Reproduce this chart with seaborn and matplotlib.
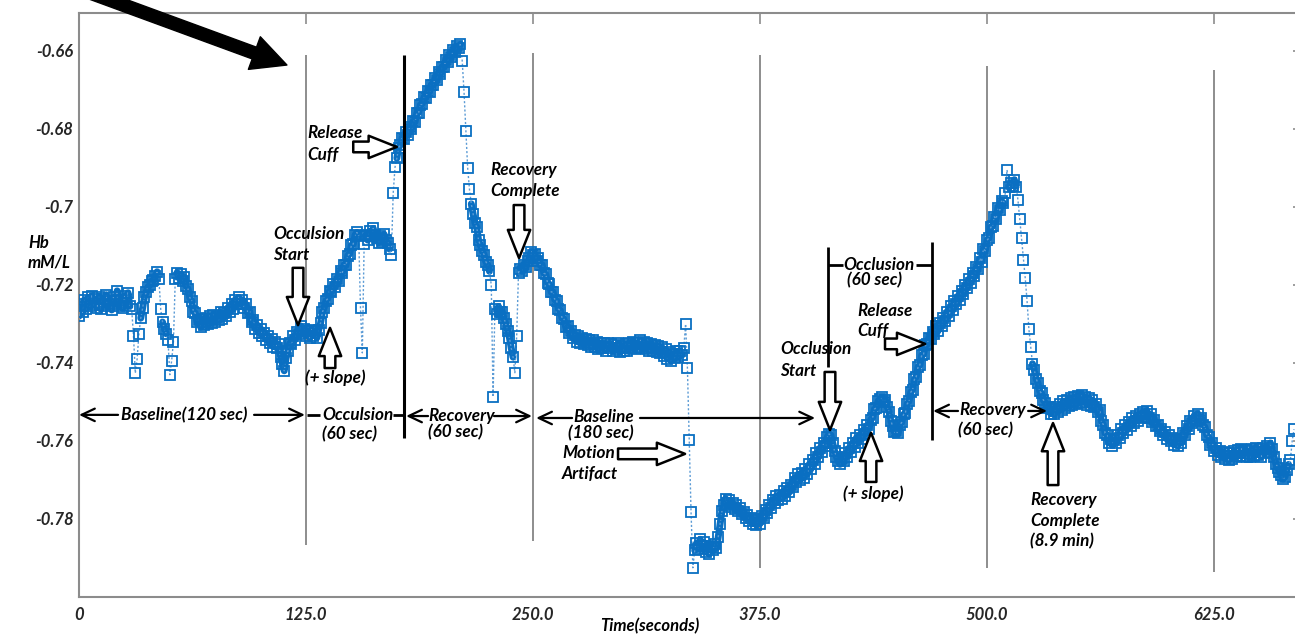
import numpy as np
import pandas as pd
import seaborn as sns
import matplotlib.pyplot as plt

# Hb signal, one sample per second (0 .. 669 s)
hb = [
    -0.7280, -0.7248, -0.7270, -0.7238, -0.7262, -0.7232, -0.7255, -0.7228, -0.7250, -0.7236,
    -0.7258, -0.7230, -0.7262, -0.7236, -0.7250, -0.7225, -0.7255, -0.7240, -0.7264, -0.7232,
    -0.7248, -0.7215, -0.7255, -0.7238, -0.7260, -0.7228, -0.7245, -0.7220, -0.7255, -0.7262,
    -0.7330, -0.7426, -0.7390, -0.7325, -0.7285, -0.7260, -0.7232, -0.7218, -0.7205, -0.7200,
    -0.7190, -0.7188, -0.7176, -0.7166, -0.7185, -0.7262, -0.7295, -0.7312, -0.7325, -0.7340,
    -0.7430, -0.7395, -0.7345, -0.7185, -0.7168, -0.7182, -0.7172, -0.7190, -0.7180, -0.7202,
    -0.7210, -0.7232, -0.7240, -0.7268, -0.7272, -0.7295, -0.7290, -0.7308, -0.7288, -0.7302,
    -0.7285, -0.7300, -0.7280, -0.7298, -0.7276, -0.7295, -0.7282, -0.7290, -0.7270, -0.7288,
    -0.7272, -0.7280, -0.7258, -0.7270, -0.7248, -0.7262, -0.7238, -0.7250, -0.7232, -0.7248,
    -0.7238, -0.7258, -0.7250, -0.7272, -0.7268, -0.7295, -0.7290, -0.7312, -0.7302, -0.7322,
    -0.7312, -0.7330, -0.7322, -0.7340, -0.7330, -0.7350, -0.7338, -0.7358, -0.7345, -0.7362,
    -0.7352, -0.7385, -0.7402, -0.7420, -0.7388, -0.7370, -0.7350, -0.7352, -0.7332, -0.7340,
    -0.7320, -0.7325, -0.7305, -0.7318, -0.7312, -0.7330, -0.7318, -0.7335, -0.7315, -0.7330,
    -0.7318, -0.7335, -0.7315, -0.7298, -0.7270, -0.7258, -0.7240, -0.7235, -0.7215, -0.7218,
    -0.7198, -0.7205, -0.7185, -0.7190, -0.7165, -0.7168, -0.7148, -0.7150, -0.7125, -0.7120,
    -0.7098, -0.7095, -0.7072, -0.7065, -0.7075, -0.7260, -0.7374, -0.7095, -0.7072, -0.7085,
    -0.7062, -0.7075, -0.7055, -0.7072, -0.7080, -0.7092, -0.7075, -0.7090, -0.7070, -0.7085,
    -0.7092, -0.7108, -0.7122, -0.6965, -0.6898, -0.6875, -0.6848, -0.6840, -0.6822, -0.6825,
    -0.6808, -0.6815, -0.6795, -0.6800, -0.6780, -0.6782, -0.6760, -0.6758, -0.6738, -0.6735,
    -0.6718, -0.6720, -0.6702, -0.6705, -0.6686, -0.6688, -0.6670, -0.6675, -0.6655, -0.6658,
    -0.6640, -0.6642, -0.6622, -0.6628, -0.6610, -0.6615, -0.6598, -0.6602, -0.6588, -0.6592,
    -0.6583, -0.6625, -0.6705, -0.6805, -0.6900, -0.6955, -0.6992, -0.7018, -0.7040, -0.7052,
    -0.7085, -0.7098, -0.7112, -0.7122, -0.7140, -0.7148, -0.7165, -0.7200, -0.7487, -0.7262,
    -0.7275, -0.7255, -0.7270, -0.7268, -0.7285, -0.7300, -0.7318, -0.7335, -0.7362, -0.7385,
    -0.7425, -0.7330, -0.7168, -0.7158, -0.7165, -0.7150, -0.7155, -0.7138, -0.7132, -0.7115,
    -0.7122, -0.7120, -0.7138, -0.7132, -0.7150, -0.7148, -0.7170, -0.7172, -0.7195, -0.7198,
    -0.7218, -0.7218, -0.7238, -0.7240, -0.7262, -0.7265, -0.7285, -0.7288, -0.7308, -0.7305,
    -0.7322, -0.7318, -0.7335, -0.7328, -0.7345, -0.7332, -0.7350, -0.7335, -0.7352, -0.7338,
    -0.7355, -0.7340, -0.7358, -0.7342, -0.7360, -0.7345, -0.7365, -0.7348, -0.7362, -0.7350,
    -0.7368, -0.7350, -0.7362, -0.7352, -0.7370, -0.7355, -0.7365, -0.7350, -0.7372, -0.7356,
    -0.7368, -0.7352, -0.7370, -0.7348, -0.7362, -0.7345, -0.7365, -0.7348, -0.7360, -0.7342,
    -0.7362, -0.7345, -0.7365, -0.7350, -0.7368, -0.7352, -0.7370, -0.7355, -0.7372, -0.7356,
    -0.7375, -0.7360, -0.7382, -0.7365, -0.7390, -0.7372, -0.7395, -0.7378, -0.7388, -0.7370,
    -0.7385, -0.7368, -0.7380, -0.7362, -0.7300, -0.7413, -0.7597, -0.7782, -0.7925, -0.7880,
    -0.7862, -0.7878, -0.7852, -0.7870, -0.7860, -0.7885, -0.7868, -0.7890, -0.7872, -0.7880,
    -0.7865, -0.7875, -0.7845, -0.7812, -0.7780, -0.7765, -0.7748, -0.7760, -0.7752, -0.7768,
    -0.7760, -0.7775, -0.7765, -0.7780, -0.7772, -0.7788, -0.7782, -0.7798, -0.7790, -0.7805,
    -0.7798, -0.7812, -0.7802, -0.7815, -0.7800, -0.7812, -0.7792, -0.7798, -0.7778, -0.7785,
    -0.7765, -0.7772, -0.7752, -0.7760, -0.7740, -0.7752, -0.7738, -0.7748, -0.7728, -0.7740,
    -0.7720, -0.7732, -0.7712, -0.7718, -0.7695, -0.7705, -0.7685, -0.7700, -0.7682, -0.7695,
    -0.7672, -0.7685, -0.7660, -0.7672, -0.7648, -0.7658, -0.7632, -0.7642, -0.7618, -0.7628,
    -0.7605, -0.7612, -0.7590, -0.7582, -0.7585, -0.7605, -0.7625, -0.7640, -0.7652, -0.7660,
    -0.7645, -0.7652, -0.7632, -0.7640, -0.7618, -0.7628, -0.7605, -0.7615, -0.7592, -0.7605,
    -0.7585, -0.7595, -0.7572, -0.7582, -0.7560, -0.7568, -0.7545, -0.7540, -0.7518, -0.7515,
    -0.7498, -0.7492, -0.7488, -0.7500, -0.7495, -0.7512, -0.7525, -0.7548, -0.7562, -0.7578,
    -0.7575, -0.7580, -0.7560, -0.7552, -0.7532, -0.7528, -0.7505, -0.7498, -0.7475, -0.7468,
    -0.7442, -0.7435, -0.7410, -0.7405, -0.7380, -0.7378, -0.7355, -0.7352, -0.7335, -0.7338,
    -0.7320, -0.7325, -0.7305, -0.7318, -0.7298, -0.7305, -0.7285, -0.7292, -0.7268, -0.7280,
    -0.7255, -0.7265, -0.7242, -0.7250, -0.7228, -0.7238, -0.7215, -0.7222, -0.7200, -0.7208,
    -0.7185, -0.7195, -0.7170, -0.7178, -0.7155, -0.7160, -0.7132, -0.7140, -0.7108, -0.7112,
    -0.7085, -0.7080, -0.7052, -0.7050, -0.7025, -0.7030, -0.7002, -0.7008, -0.6985, -0.6990,
    -0.6965, -0.6905, -0.6950, -0.6938, -0.6945, -0.6930, -0.6948, -0.6982, -0.7032, -0.7080,
    -0.7135, -0.7182, -0.7240, -0.7312, -0.7358, -0.7402, -0.7418, -0.7440, -0.7452, -0.7472,
    -0.7478, -0.7495, -0.7502, -0.7515, -0.7512, -0.7530, -0.7518, -0.7532, -0.7512, -0.7525,
    -0.7505, -0.7520, -0.7498, -0.7515, -0.7495, -0.7510, -0.7490, -0.7508, -0.7488, -0.7505,
    -0.7485, -0.7502, -0.7482, -0.7500, -0.7488, -0.7508, -0.7490, -0.7510, -0.7495, -0.7512,
    -0.7505, -0.7525, -0.7520, -0.7550, -0.7558, -0.7580, -0.7585, -0.7605, -0.7595, -0.7612,
    -0.7598, -0.7605, -0.7585, -0.7592, -0.7570, -0.7580, -0.7560, -0.7572, -0.7552, -0.7562,
    -0.7542, -0.7555, -0.7535, -0.7548, -0.7530, -0.7542, -0.7525, -0.7538, -0.7522, -0.7540,
    -0.7532, -0.7552, -0.7545, -0.7562, -0.7558, -0.7575, -0.7568, -0.7585, -0.7578, -0.7595,
    -0.7585, -0.7600, -0.7592, -0.7610, -0.7598, -0.7612, -0.7595, -0.7605, -0.7580, -0.7585,
    -0.7562, -0.7570, -0.7548, -0.7555, -0.7535, -0.7548, -0.7530, -0.7545, -0.7540, -0.7558,
    -0.7565, -0.7585, -0.7590, -0.7610, -0.7605, -0.7625, -0.7618, -0.7635, -0.7625, -0.7642,
    -0.7628, -0.7645, -0.7630, -0.7648, -0.7632, -0.7645, -0.7625, -0.7640, -0.7622, -0.7638,
    -0.7620, -0.7638, -0.7622, -0.7640, -0.7625, -0.7642, -0.7620, -0.7638, -0.7618, -0.7635,
    -0.7620, -0.7640, -0.7618, -0.7632, -0.7612, -0.7628, -0.7605, -0.7620, -0.7640, -0.7658,
    -0.7668, -0.7680, -0.7688, -0.7698, -0.7692, -0.7675, -0.7660, -0.7648, -0.7600, -0.7570,
]
time_s = np.arange(len(hb))

x_ticks = [0, 125, 250, 375, 500, 625]
x_tick_labels = ["0", "125.0", "250.0", "375.0", "500.0", "625.0"]
y_ticks = [-0.66, -0.68, -0.70, -0.72, -0.74, -0.76, -0.78]
y_tick_labels = ["-0.66", "-0.68", "-0.7", "-0.72", "-0.74", "-0.76", "-0.78"]

# thin grey markers at the x ticks (they stop short of the frame)
grid_x = [125, 250, 375, 500, 625]
grid_top = [-0.6610, -0.6605, -0.6610, -0.6638, -0.6649]
grid_bottom = [-0.7867, -0.7856, -0.7926, -0.7926, -0.7936]

# hollow block arrows: tail (t, y) -> tip (t, y)
block_arrows = [
    (151.0, -0.6846, 175.0, -0.6846),   # release cuff
    (120.6, -0.7156, 120.6, -0.7303),   # occlusion start
    (138.2, -0.7413, 138.2, -0.7310),   # + slope
    (242.3, -0.6995, 242.3, -0.7131),   # recovery complete
    (296.8, -0.7633, 333.7, -0.7633),   # motion artifact
    (413.5, -0.7423, 413.5, -0.7572),   # occlusion start 2
    (436.1, -0.7705, 436.1, -0.7579),   # + slope 2
    (443.8, -0.7351, 465.9, -0.7351),   # release cuff 2
    (536.3, -0.7713, 536.3, -0.7554),   # recovery complete 2
]

# thin arrows with open heads: tail -> tip
line_arrows = [
    (21.5, -0.7533, 0.0, -0.7533),
    (96.4, -0.7533, 124.4, -0.7533),
    (192.2, -0.7536, 180.1, -0.7536),
    (228.5, -0.7536, 249.4, -0.7536),
    (271.5, -0.7541, 251.7, -0.7541),
    (308.9, -0.7541, 405.3, -0.7541),
    (484.0, -0.7523, 470.3, -0.7523),
    (522.6, -0.7523, 533.0, -0.7523),
]

# plain black segments (t0, y0, t1, y1, width)
segments = [
    (125.6, -0.7533, 132.7, -0.7533, 2.0),
    (172.9, -0.7533, 179.0, -0.7533, 2.0),
    (179.0, -0.6610, 179.0, -0.7592, 2.2),
    (412.4, -0.7103, 412.4, -0.7410, 2.0),
    (469.7, -0.7090, 469.7, -0.7597, 2.0),
    (412.4, -0.7149, 420.7, -0.7149, 2.0),
    (460.9, -0.7149, 469.7, -0.7149, 2.0),
]

# annotation text: (text, t, y, ha)
labels = [
    ("Release", 125.6, -0.6810, "left"),
    ("Cuff", 125.6, -0.6867, "left"),
    ("Occulsion", 106.8, -0.7069, "left"),
    ("Start", 106.8, -0.7123, "left"),
    ("(+ slope)", 141.0, -0.7438, "center"),
    ("Recovery", 226.3, -0.6905, "left"),
    ("Complete", 226.3, -0.6959, "left"),
    ("Baseline(120 sec)", 57.8, -0.7533, "center"),
    ("Occulsion", 133.8, -0.7533, "left"),
    ("(60 sec)", 133.8, -0.7582, "left"),
    ("Recovery", 192.2, -0.7536, "left"),
    ("(60 sec)", 192.2, -0.7577, "left"),
    ("Baseline", 272.0, -0.7538, "left"),
    ("(180 sec)", 269.3, -0.7579, "left"),
    ("Motion", 266.0, -0.7631, "left"),
    ("Artifact", 266.0, -0.7685, "left"),
    ("Occlusion", 386.0, -0.7364, "left"),
    ("Start", 386.0, -0.7421, "left"),
    ("(+ slope)", 437.5, -0.7736, "center"),
    ("Occlusion", 420.7, -0.7149, "left"),
    ("(60 sec)", 422.9, -0.7187, "left"),
    ("Release", 428.4, -0.7267, "left"),
    ("Cuff", 428.4, -0.7318, "left"),
    ("Recovery", 484.6, -0.7521, "left"),
    ("(60 sec)", 484.0, -0.7572, "left"),
    ("Recovery", 523.7, -0.7751, "left"),
    ("Complete", 523.7, -0.7805, "left"),
    ("(8.9 min)", 523.7, -0.7856, "left"),
]

sns.set_style("white")
plt.rcParams["font.family"] = ["Lato", "DejaVu Sans"]
txt = dict(fontweight="bold", fontstyle="italic", color="black")

fig = plt.figure(figsize=(12.95, 6.35), dpi=100)
ax = fig.add_axes([79 / 1295, 38 / 635, 1225 / 1295, 584 / 635])

df = pd.DataFrame({"time": time_s, "hb": hb})
# the dense part of the trace looks like a solid band; break it at the fast jumps
step = df["hb"].diff().abs()
calm = (step.fillna(0) < 0.0045) & (step.shift(-1).fillna(0) < 0.0045)
df["run"] = (~calm).cumsum()
band = df[calm]

sns.lineplot(data=band, x="time", y="hb", units="run", ax=ax, estimator=None, sort=False,
             legend=False, color="#0a6fc2", lw=5, zorder=2.5)
sns.lineplot(data=df, x="time", y="hb", ax=ax, estimator=None, sort=False, legend=False,
             color="#5b9bd5", lw=1, ls=(0, (1.5, 1.5)), marker="s", markersize=6.5,
             markerfacecolor="none", markeredgecolor="#0a6fc2", markeredgewidth=1.3, zorder=3)

ax.set_xlim(0, 674.5)
ax.set_ylim(-0.80, -0.65026)
ax.vlines(grid_x, grid_bottom, grid_top, colors="#7a7a7a", lw=1.2, zorder=1)

for sp in ax.spines.values():
    sp.set_color("#8c8c8c")
    sp.set_linewidth(1.5)
ax.tick_params(direction="in", length=8, width=1.2, color="#8c8c8c",
               top=True, right=True, labelsize=12, pad=4)
ax.set_xticks(x_ticks, labels=x_tick_labels)
ax.set_yticks(y_ticks, labels=y_tick_labels)
for lab in ax.get_xticklabels() + ax.get_yticklabels():
    lab.set_fontweight("bold")
    lab.set_fontstyle("italic")
ax.tick_params(axis="x", pad=7)
ax.set_xlabel("Time(seconds)", fontsize=12, **txt)
ax.xaxis.set_label_coords(0.466, -0.036)
ax.set_ylabel("Hb\nmM/L", fontsize=12, rotation=0, ha="left", va="center",
              linespacing=1.3, **txt)
ax.yaxis.set_label_coords(-0.0416, 0.589)

for t0, y0, t1, y1, w in segments:
    ax.plot([t0, t1], [y0, y1], color="black", lw=w, solid_capstyle="butt", zorder=4)

for tt, ty, ht, hy in line_arrows:
    ax.annotate("", xy=(ht, hy), xytext=(tt, ty),
                arrowprops=dict(arrowstyle="->,head_length=0.95,head_width=0.45",
                                mutation_scale=10, color="black", lw=1.6,
                                shrinkA=0, shrinkB=0), zorder=4)

for tt, ty, ht, hy in block_arrows:
    ax.annotate("", xy=(ht, hy), xytext=(tt, ty),
                arrowprops=dict(arrowstyle="simple,head_length=1.45,head_width=1.15,tail_width=0.55",
                                mutation_scale=14, fc="white", ec="black", lw=1.8,
                                shrinkA=0, shrinkB=0), zorder=6)

for s, t, y, ha in labels:
    ax.text(t, y, s, ha=ha, va="center", fontsize=12.3, zorder=7, **txt)

# big pointer arrow at the top left
ax.annotate("", xy=(114.5, -0.6636), xytext=(3.3, -0.6446), annotation_clip=False,
            arrowprops=dict(arrowstyle="simple,head_length=1.0,head_width=1.0,tail_width=0.36",
                            mutation_scale=25, fc="black", ec="black", lw=1,
                            shrinkA=0, shrinkB=0, clip_on=False))

fig.savefig("out.png", dpi=100)
